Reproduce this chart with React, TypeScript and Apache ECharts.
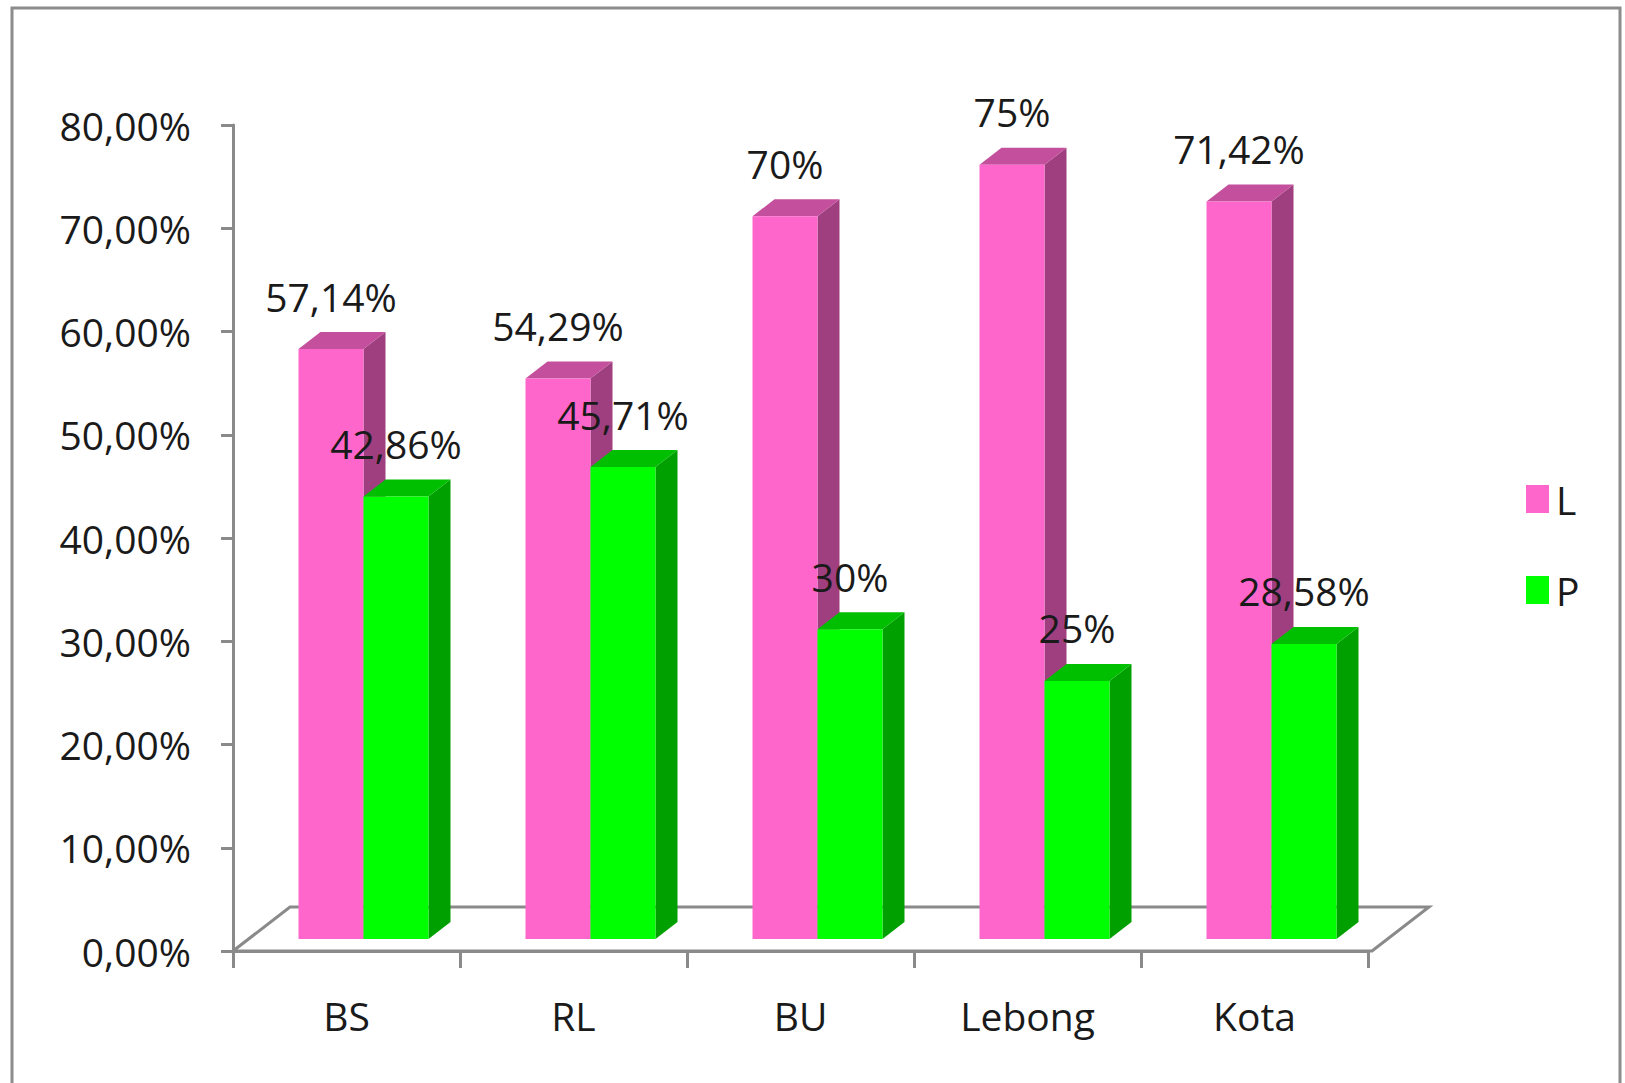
import React, { useEffect, useRef } from "react";
import * as echarts from "echarts";

const categories = ["BS", "RL", "BU", "Lebong", "Kota"];
const valuesL = [0.5714, 0.5429, 0.7, 0.75, 0.7142];
const valuesP = [0.4286, 0.4571, 0.3, 0.25, 0.2858];
const labelsL = ["57,14%", "54,29%", "70%", "75%", "71,42%"];
const labelsP = ["42,86%", "45,71%", "30%", "25%", "28,58%"];

const FONT = "'Open Sans', 'Noto Sans', sans-serif";
const FS = 39;
const TEXT = "#1a1a1a";
const AXIS = "#8a8a8a";

const GRID_LEFT = 233;
const GRID_TOP = 125;
const GRID_RIGHT_X = 1368;
const GRID_BOTTOM_Y = 951;

// 3D geometry
const OX = 17; // front plane offset of bars (x)
const OY = -12; // front plane offset of bars (y)
const BW = 65; // bar width
const DX = 22; // bar depth x
const DY = -17; // bar depth y
const FLOOR_DX = 57;
const FLOOR_DY = -44;

const COLORS = {
  L: { front: "#FF66CC", top: "#C44F9C", side: "#A03F7F" },
  P: { front: "#00FF00", top: "#00BF00", side: "#00A000" },
};

function makeRender(which: "L" | "P", labels: string[]) {
  const c = COLORS[which];
  return (params: any, api: any) => {
    const idx = api.value(0);
    const val = api.value(1);
    const base = api.coord([idx, 0]);
    const topP = api.coord([idx, val]);
    const cx = base[0] + OX;
    const x0 = which === "L" ? cx - BW : cx;
    const b = base[1] + OY;
    const t = topP[1] + OY;
    const x1 = x0 + BW;
    return {
      type: "group",
      children: [
        {
          type: "polygon",
          shape: { points: [[x1, t], [x1 + DX, t + DY], [x1 + DX, b + DY], [x1, b]] },
          style: { fill: c.side },
        },
        {
          type: "polygon",
          shape: { points: [[x0, t], [x1, t], [x1 + DX, t + DY], [x0 + DX, t + DY]] },
          style: { fill: c.top },
        },
        {
          type: "rect",
          shape: { x: x0, y: t, width: BW, height: b - t },
          style: { fill: c.front },
        },
        {
          type: "text",
          z2: 10,
          style: {
            text: labels[params.dataIndex],
            x: x0 + BW / 2,
            y: t - 53,
            align: "center",
            verticalAlign: "middle",
            font: `${FS}px ${FONT}`,
            fill: TEXT,
          },
        },
      ],
    };
  };
}

export default function App() {
  const ref = useRef<HTMLDivElement>(null);
  useEffect(() => {
    if (!ref.current) return;
    const chart = echarts.init(ref.current, undefined, { renderer: "svg" });
    const fmt = (v: number) => (v * 100).toFixed(2).replace(".", ",") + "%";
    chart.setOption({
      animation: false,
      backgroundColor: "#fff",
      textStyle: { fontFamily: FONT },
      grid: {
        left: GRID_LEFT,
        top: GRID_TOP,
        width: GRID_RIGHT_X - GRID_LEFT,
        height: GRID_BOTTOM_Y - GRID_TOP,
        containLabel: false,
      },
      legend: {
        orient: "vertical",
        left: 1521,
        top: 474,
        itemWidth: 23,
        itemHeight: 28,
        itemGap: 51,
        icon: "rect",
        data: ["L", "P"],
        textStyle: { fontSize: FS, fontFamily: FONT, color: TEXT, lineHeight: 40, padding: [0, 0, 0, 2] },
      },
      xAxis: {
        type: "category",
        data: categories,
        boundaryGap: true,
        axisLine: { show: true, lineStyle: { color: AXIS, width: 3 } },
        axisTick: { show: true, length: 17, lineStyle: { color: AXIS, width: 3 }, alignWithLabel: false },
        axisLabel: { fontSize: FS, fontFamily: FONT, color: TEXT, margin: 45 },
        splitLine: { show: false },
      },
      yAxis: {
        type: "value",
        min: 0,
        max: 0.8,
        interval: 0.1,
        axisLine: { show: true, lineStyle: { color: AXIS, width: 3 } },
        axisTick: { show: true, length: 12, lineStyle: { color: AXIS, width: 3 } },
        axisLabel: { fontSize: FS, fontFamily: FONT, color: TEXT, margin: 42, formatter: fmt },
        splitLine: { show: false },
      },
      graphic: [
        {
          type: "rect",
          z: 0,
          shape: { x: 12, y: 8, width: 1608, height: 1100 },
          style: { fill: "none", stroke: "#8c8c8c", lineWidth: 3 },
          silent: true,
        },
        {
          type: "polyline",
          z: 1,
          shape: {
            points: [
              [GRID_LEFT, GRID_BOTTOM_Y],
              [GRID_LEFT + FLOOR_DX, GRID_BOTTOM_Y + FLOOR_DY],
              [GRID_RIGHT_X + 4 + FLOOR_DX, GRID_BOTTOM_Y + FLOOR_DY],
              [GRID_RIGHT_X + 4, GRID_BOTTOM_Y],
              [GRID_LEFT, GRID_BOTTOM_Y],
            ],
          },
          style: { fill: "none", stroke: AXIS, lineWidth: 3 },
          silent: true,
        },
      ],
      series: [
        {
          name: "L",
          type: "custom",
          z: 3,
          itemStyle: { color: COLORS.L.front },
          renderItem: makeRender("L", labelsL),
          data: valuesL.map((v, i) => [i, v]),
        },
        {
          name: "P",
          type: "custom",
          z: 4,
          itemStyle: { color: COLORS.P.front },
          renderItem: makeRender("P", labelsP),
          data: valuesP.map((v, i) => [i, v]),
        },
      ],
    });
    return () => chart.dispose();
  }, []);
  return (
    <div
      ref={ref}
      style={{ position: "absolute", left: 0, top: 0, width: 1625, height: 1083 }}
    />
  );
}
